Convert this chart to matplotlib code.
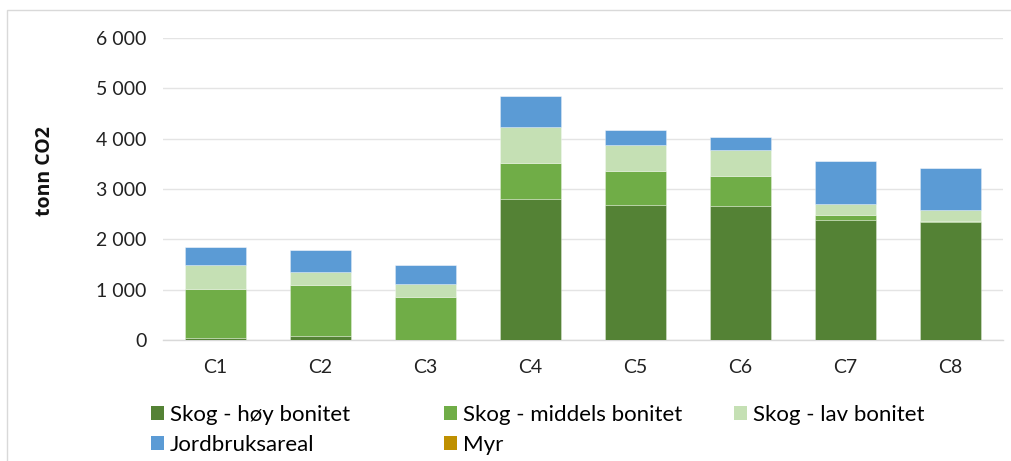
import matplotlib
matplotlib.use("Agg")
import matplotlib.pyplot as plt
import matplotlib.ticker as mticker
from matplotlib.patches import Rectangle, Patch
import numpy as np

plt.rcParams['font.family'] = ['Lato', 'DejaVu Sans']

categories = ["C1", "C2", "C3", "C4", "C5", "C6", "C7", "C8"]
series_names = ["Skog - høy bonitet", "Skog - middels bonitet", "Skog - lav bonitet",
                "Jordbruksareal", "Myr"]
skog_hoy = [45, 70, 0, 2810, 2690, 2660, 2390, 2345]
skog_middels = [975, 1025, 855, 705, 670, 590, 85, 20]
skog_lav = [465, 260, 255, 715, 510, 515, 220, 215]
jordbruk = [360, 435, 385, 620, 305, 270, 860, 835]
myr = [0, 0, 0, 0, 0, 0, 0, 0]
y_ticks = [0, 1000, 2000, 3000, 4000, 5000, 6000]

colors = ["#548235", "#70AD47", "#C5E0B4", "#5B9BD5", "#BF9000"]
values = [skog_hoy, skog_middels, skog_lav, jordbruk, myr]

fig = plt.figure(figsize=(10.12, 4.61), dpi=100)
ax = fig.add_axes([163 / 1012, 1 - 340 / 461, 840 / 1012, 302 / 461])

x = np.arange(len(categories))
bottom = np.zeros(len(categories))
for vals, col in zip(values, colors):
    v = np.array(vals, dtype=float)
    ax.bar(x, v, bottom=bottom, width=0.59, color=col, edgecolor=(1, 1, 1, 0.35),
           linewidth=0.6, zorder=3)
    bottom += v

ax.set_xlim(-0.5, len(categories) - 0.5)
ax.set_ylim(0, 6000)
ax.set_yticks(y_ticks)
ax.yaxis.set_major_formatter(mticker.FuncFormatter(lambda v, p: f"{int(v):,}".replace(",", " ")))
ax.set_xticks(x)
ax.set_xticklabels(categories)
ax.tick_params(axis='both', length=0, labelsize=14, colors="#222222")
ax.tick_params(axis='y', pad=12)
ax.tick_params(axis='x', pad=14)
ax.grid(axis='y', color="#E4E4E4", linewidth=1.0, zorder=0)
for s in ["top", "right", "left"]:
    ax.spines[s].set_visible(False)
ax.spines["bottom"].set_color("#D9D9D9")
ax.spines["bottom"].set_linewidth(1.0)

fig.text(45 / 1012, 1 - 171 / 461, "tonn CO2", rotation=90, ha="center", va="center",
         fontsize=14, fontweight="bold", color="#111111",
         family=['Open Sans', 'DejaVu Sans'])

# outer frame (left and top edges)
fig.patches.append(Rectangle((7 / 1012, -0.1), 1.2, 1.1 - 10 / 461,
                             transform=fig.transFigure, fill=False,
                             edgecolor="#D9D9D9", linewidth=1.0))

# legend laid out as three evenly spaced columns, filled row by row
handles = [Patch(facecolor=c, edgecolor="none") for c in colors]
columns = [[0, 3], [1, 4], [2]]
col_x = [142, 435, 725]
for idx, cx in zip(columns, col_x):
    fig.legend([handles[i] for i in idx], [series_names[i] for i in idx],
               ncol=1, loc="upper left", bbox_to_anchor=(cx / 1012, 1 - 396 / 461),
               frameon=False, fontsize=16, handlelength=0.6, handleheight=0.6,
               handletextpad=0.25, labelspacing=0.45, borderaxespad=0)

fig.savefig("out.png", dpi=100)
